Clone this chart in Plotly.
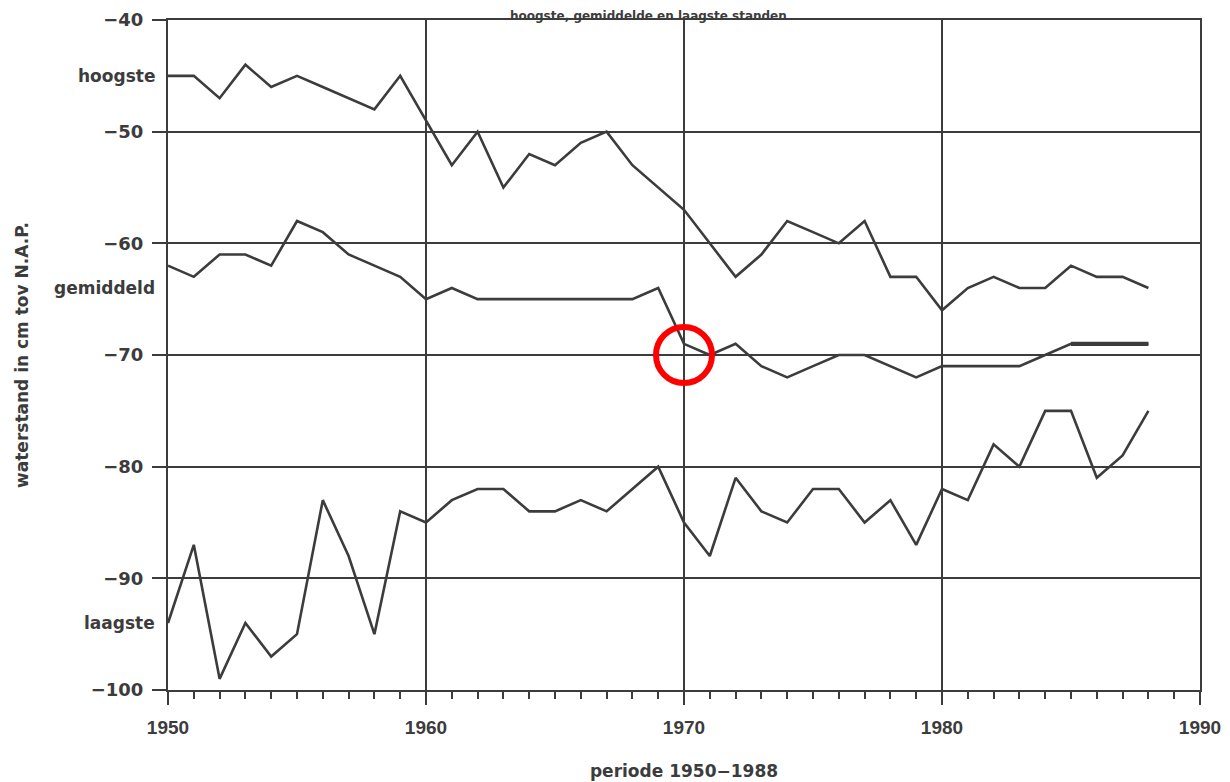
import plotly.graph_objects as go

years = list(range(1950, 1989))

hoogste = [-45, -45, -47, -44, -46, -45, -46, -47, -48, -45,
           -49, -53, -50, -55, -52, -53, -51, -50, -53, -55,
           -57, -60, -63, -61, -58, -59, -60, -58, -63, -63,
           -66, -64, -63, -64, -64, -62, -63, -63, -64]

gemiddeld = [-62, -63, -61, -61, -62, -58, -59, -61, -62, -63,
             -65, -64, -65, -65, -65, -65, -65, -65, -65, -64,
             -69, -70, -69, -71, -72, -71, -70, -70, -71, -72,
             -71, -71, -71, -71, -70, -69, -69, -69, -69]

laagste = [-94, -87, -99, -94, -97, -95, -83, -88, -95, -84,
           -85, -83, -82, -82, -84, -84, -83, -84, -82, -80,
           -85, -88, -81, -84, -85, -82, -82, -85, -83, -87,
           -82, -83, -78, -80, -75, -75, -81, -79, -75]

series_names = ["hoogste", "gemiddeld", "laagste"]
label_values = [-45, -64, -94]

highlight_year = [1970]
highlight_value = [-70]

x_ticks = [1950, 1960, 1970, 1980, 1990]
y_ticks = [-100, -90, -80, -70, -60, -50, -40]

title_text = "hoogste, gemiddelde en laagste standen"
x_title = "periode 1950\u22121988"
y_title = "waterstand in cm tov N.A.P."

ink = "#3c3c3c"
font_main = "DejaVu Sans"

fig = go.Figure()
for vals in (hoogste, gemiddeld, laagste):
    fig.add_trace(go.Scatter(x=years, y=vals, mode="lines",
                             line=dict(color=ink, width=2.6),
                             showlegend=False, hoverinfo="x+y"))
# the bold end stretch of the mean line
fig.add_trace(go.Scatter(x=years[35:], y=gemiddeld[35:], mode="lines",
                         line=dict(color=ink, width=4.2),
                         showlegend=False, hoverinfo="skip"))
# red highlight ring
fig.add_trace(go.Scatter(x=highlight_year, y=highlight_value, mode="markers",
                         marker=dict(symbol="circle-open", size=56,
                                     color="#ff0000",
                                     line=dict(color="#ff0000", width=6)),
                         showlegend=False, hoverinfo="skip"))

fig.update_xaxes(range=[1950, 1990], tickvals=x_ticks, automargin=False,
                 showgrid=True, gridcolor=ink, gridwidth=2,
                 showline=True, linecolor=ink, linewidth=2, mirror=True,
                 ticks="outside", ticklen=13, tickwidth=2, tickcolor=ink,
                 ticklabelstandoff=6, ticklabeloverflow="allow",
                 minor=dict(dtick=1, tick0=1950, ticks="outside", ticklen=7,
                            tickwidth=1.5, tickcolor=ink, showgrid=False),
                 tickfont=dict(family="Liberation Sans", size=19, color=ink,
                               weight="bold"),
                 zeroline=False,
                 title=dict(text=x_title, standoff=28,
                            font=dict(family=font_main, size=17, color=ink,
                                      weight="bold")))
fig.update_yaxes(range=[-100, -40], tickvals=y_ticks, automargin=False,
                 showgrid=True, gridcolor=ink, gridwidth=2,
                 showline=True, linecolor=ink, linewidth=2, mirror=True,
                 ticks="outside", ticklen=14, tickwidth=2, tickcolor=ink,
                 ticklabelstandoff=5, ticklabeloverflow="allow",
                 tickfont=dict(family=font_main, size=18, color=ink,
                               weight="bold"),
                 zeroline=False,
                 title=dict(text=y_title, standoff=58,
                            font=dict(family=font_main, size=17, color=ink,
                                      weight="bold")))

for name, val in zip(series_names, label_values):
    fig.add_annotation(x=0, xref="paper", xshift=-11, y=val, yref="y",
                       text=name, showarrow=False, xanchor="right",
                       yanchor="middle",
                       font=dict(family=font_main, size=17, color=ink,
                                 weight="bold"))

fig.add_annotation(x=0.466, xref="paper", y=1.0, yshift=12, yref="paper",
                   text=title_text, showarrow=False, xanchor="center",
                   yanchor="top", borderpad=0,
                   font=dict(family=font_main, size=12, color=ink,
                             weight="bold"))

fig.update_layout(width=1222, height=774,
                  margin=dict(l=160, r=30, t=12, b=92),
                  paper_bgcolor="white", plot_bgcolor="white")

fig.write_html("out.html")
